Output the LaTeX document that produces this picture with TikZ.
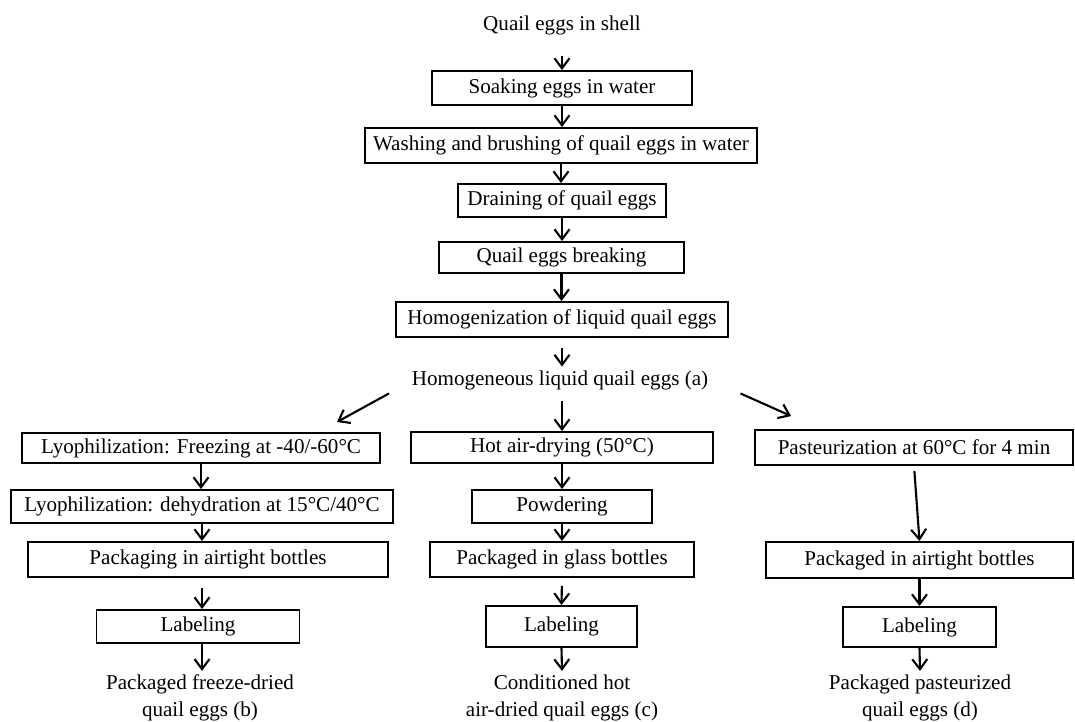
\documentclass[tikz,border=0pt]{standalone}
\usepackage{fontspec}
\setmainfont{Liberation Serif}
\usetikzlibrary{arrows.meta}

\tikzset{
  box/.style={draw, line width=1.1pt, inner sep=0pt, align=center},
  txt/.style={inner sep=2pt, align=center},
  arr/.style={line width=1.2pt, -{Straight Barb[length=2mm,width=3mm,line width=1.2pt]}},
}

\begin{document}
\begin{tikzpicture}[x=0.02cm, y=-0.02cm, font=\fontsize{12}{15.5}\selectfont] % quail egg processing flow
\useasboundingbox (0,0) rectangle (1075,722);

\node[txt] (t0) at (562,25) {Quail eggs in shell};
\node[box, minimum width=5.2cm, minimum height=0.68cm] (b1) at (562,88) {Soaking eggs in water};
\node[box, minimum width=7.84cm, minimum height=0.7cm] (b2) at (561,145.5) {Washing and brushing of quail eggs in water};
\node[box, minimum width=4.16cm, minimum height=0.66cm] (b3) at (562,200.5) {Draining of quail eggs};
\node[box, minimum width=4.9cm, minimum height=0.62cm] (b4) at (561.5,257.5) {Quail eggs breaking};
\node[box, minimum width=6.64cm, minimum height=0.7cm] (b5) at (562,319.5) {Homogenization of liquid quail eggs};
\node[txt] (ta) at (560,380) {Homogeneous liquid quail eggs (a)};

% freeze-dried
\node[box, minimum width=7.16cm, minimum height=0.6cm] (L1) at (201,448) {Lyophilization: Freezing at -40/-60°C};
\node[box, minimum width=7.64cm, minimum height=0.66cm] (L2) at (202,506.5) {Lyophilization: dehydration at 15°C/40°C};
\node[box, minimum width=7.2cm, minimum height=0.7cm] (L3) at (208,559.5) {Packaging in airtight bottles};
\node[box, minimum width=4.06cm, minimum height=0.66cm] (L4) at (198,626.5) {Labeling};
\node[txt] (Lb) at (200,698) {Packaged freeze-dried\\quail eggs (b)};

% hot air-dried
\node[box, minimum width=6.04cm, minimum height=0.62cm] (M1) at (562,447.5) {Hot air-drying (50°C)};
\node[box, minimum width=3.6cm, minimum height=0.66cm] (M2) at (562,506.5) {Powdering};
\node[box, minimum width=5.28cm, minimum height=0.7cm] (M3) at (562,559.5) {Packaged in glass bottles};
\node[box, minimum width=3.02cm, minimum height=0.82cm] (M4) at (561.5,626.5) {Labeling};
\node[txt] (Mc) at (562,698) {Conditioned hot\\air-dried quail eggs (c)};

% pasteurized
\node[box, minimum width=6.36cm, minimum height=0.7cm] (R1) at (914,447.5) {Pasteurization at 60°C for 4 min};
\node[box, minimum width=6.14cm, minimum height=0.72cm] (R2) at (919.5,560) {Packaged in airtight bottles};
\node[box, minimum width=3.06cm, minimum height=0.8cm] (R3) at (919.5,627) {Labeling};
\node[txt] (Rd) at (920,698) {Packaged pasteurized\\quail eggs (d)};

\draw[arr, shorten <=0.36cm] (t0) -- (b1);
\draw[arr] (b1.south) -- (b1.south |- b2.north);
\draw[arr] (b2.south) -- (b2.south |- b3.north);
\draw[arr] (b3.south) -- (b3.south |- b4.north);
\draw[arr] (b4.south) -- (b4.south |- b5.north);
\draw[arr, shorten <=0.2cm] (b5.south) -- (b5.south |- ta.north);
\draw[arr, shorten <=0.16cm] (ta.south -| M1) -- (M1.north);
\draw[arr] ([xshift=-0.38cm]ta.south west) -- ([xshift=-0.88cm,yshift=0.2cm]L1.north east);
\draw[arr] ([xshift=0.57cm]ta.south east) -- ([xshift=0.74cm,yshift=0.26cm]R1.north west);

\draw[arr] (L1.south) -- (L1.south |- L2.north);
\draw[arr] (L2.south) -- (L2.south |- L3.north);
\draw[arr, shorten <=0.2cm] (L3.south -| L2.south) -- (L4.north -| L2.south);
\draw[arr] (L4.south -| L2.south) -- (Lb.north -| L2.south);

\draw[arr] (M1.south) -- (M2.north);
\draw[arr] (M2.south) -- (M3.north);
\draw[arr, shorten <=0.16cm] (M3.south) -- (M4.north);
\draw[arr] (M4.south) -- (Mc.north);

\draw[arr, shorten <=0.1cm] (R1.south) -- (R2.north);
\draw[arr] (R2.south) -- (R3.north);
\draw[arr] (R3.south) -- (Rd.north);
\end{tikzpicture}
\end{document}
